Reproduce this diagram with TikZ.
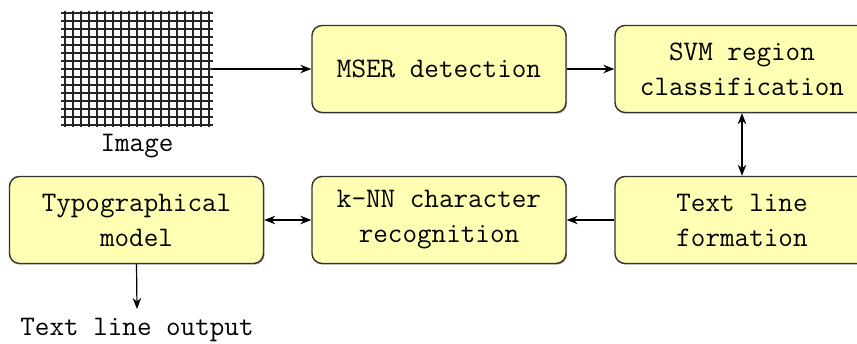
\documentclass[tikz,border=0pt]{standalone}
\usetikzlibrary{arrows.meta,shadows}
\definecolor{boxfill}{RGB}{255,255,180}
\definecolor{boxline}{RGB}{50,50,50}
\begin{document}
\begin{tikzpicture}[x=1pt,y=-1pt,
  font=\ttfamily\fontsize{28.3}{35}\selectfont,
  stage/.style={draw=boxline, line width=1.4pt, fill=boxfill, rounded corners=10pt,
    minimum width=254pt, minimum height=87pt, align=center, inner sep=0pt,
    drop shadow={shadow xshift=1.2pt, shadow yshift=-1.2pt, fill=black!40, opacity=0.7}},
  lbl/.style={inner sep=0pt, align=center},
  tip/.tip={Stealth[length=11pt,width=8.5pt]},
  flow/.style={line width=1.2pt, -tip},
  both/.style={line width=1.2pt, tip-tip},
  gridline/.style={line width=2pt, black!85}]
\useasboundingbox (0,0) rectangle (857,344);

% input image drawn as a fine grid
\foreach \i in {0,...,18}
  \draw[gridline] (65+\i*8,11) -- (65+\i*8,127);
\foreach \j in {0,...,14}
  \draw[gridline] (61,13+\j*8) -- (213,13+\j*8);
\node[inner sep=0pt, minimum width=152pt, minimum height=116pt] (img) at (137,69) {};
\node[lbl] (imglbl) at (137,146) {Image};

% processing stages
\node[stage] (mser) at (439,69) {MSER detection};
\node[stage] (svm)  at (742,69) {SVM region\\classification};
\node[stage] (tlf)  at (742,220) {Text line\\formation};
\node[stage] (knn)  at (439,220) {k-NN character\\recognition};
\node[stage] (typo) at (136.5,220) {Typographical\\model};
\node[lbl] (out) at (137,330) {Text line output};
\coordinate (outtop) at (137,309);

% connectors
\draw[flow] (img.east) -- (mser.west);
\draw[flow] (mser.east) -- (svm.west);
\draw[both] (svm.south) -- (tlf.north);
\draw[flow] (tlf.west) -- (knn.east);
\draw[both] (knn.west) -- (typo.east);
\draw[flow] (typo.south) -- (outtop);
\end{tikzpicture}
\end{document}
